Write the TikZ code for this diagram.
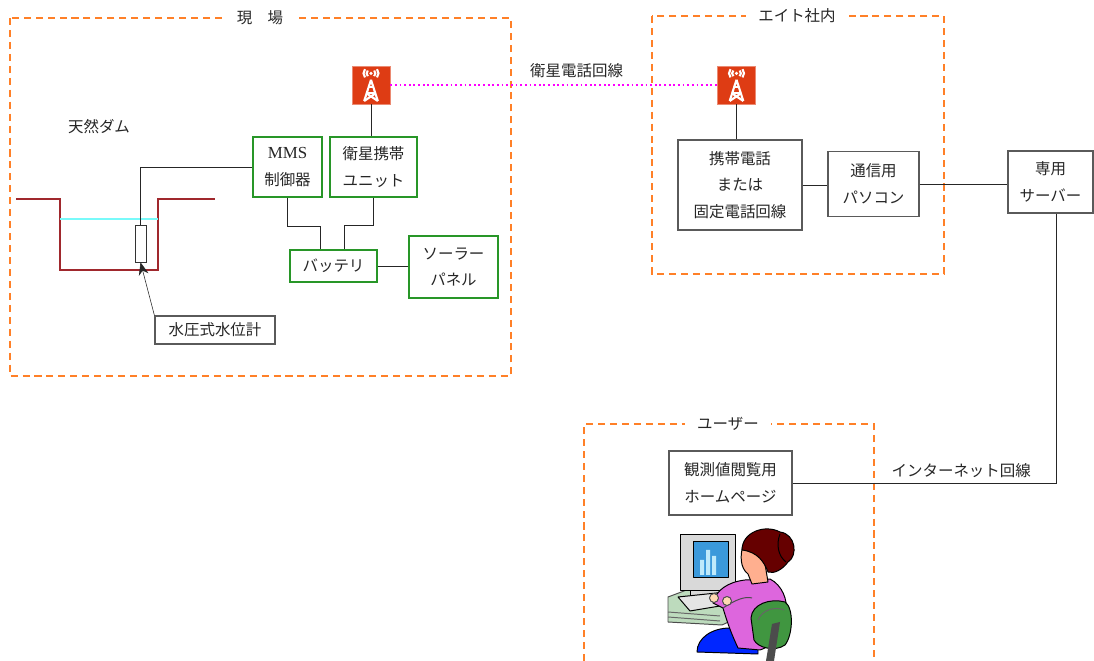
\documentclass[tikz,border=0pt]{standalone}
\usepackage{fontspec}
\setmainfont{Noto Sans CJK JP}
\newfontfamily\latfont{Liberation Serif}
\usepackage{tikz}
\usetikzlibrary{arrows.meta, positioning}

\definecolor{frameorange}{RGB}{255, 128, 40}
\definecolor{boxgreen}{RGB}{40, 150, 40}
\definecolor{boxgray}{RGB}{90, 90, 90}
\definecolor{damred}{RGB}{160, 40, 45}
\definecolor{waterline}{RGB}{120, 250, 250}
\definecolor{antred}{RGB}{222, 60, 20}
\definecolor{linkpink}{RGB}{255, 0, 255}

\begin{document}
\begin{tikzpicture}[
  x=0.025cm, y=-0.025cm,
  font=\fontsize{11}{19}\selectfont,
  every node/.style={text=black!85},
  gbox/.style={draw=boxgreen, thick, align=center, inner sep=2pt},
  kbox/.style={draw=boxgray, thick, align=center, inner sep=2pt},
  area/.style={draw=frameorange, line width=1.4pt, dash pattern=on 5pt off 3.5pt},
  areatitle/.style={fill=white, inner xsep=9pt, inner ysep=1pt},
  antenna/.style={fill=antred, draw=antred!60, minimum size=0.95cm, inner sep=0pt,
    path picture={
      \begin{scope}[shift={(path picture bounding box.center)}, white, line width=1.5pt]
        \fill (0cm,0.29cm) circle (0.045cm);
        \draw (-0.08cm,0.22cm) arc (225:135:0.1cm) (0.08cm,0.22cm) arc (-45:45:0.1cm);
        \draw (-0.15cm,0.19cm) arc (220:140:0.16cm) (0.15cm,0.19cm) arc (-40:40:0.16cm);
        \draw (0cm,0.13cm) -- (-0.17cm,-0.4cm) (0cm,0.13cm) -- (0.17cm,-0.4cm);
        \draw (-0.06cm,-0.06cm) -- (0.06cm,-0.06cm) (-0.11cm,-0.21cm) -- (0.11cm,-0.21cm);
        \draw (-0.11cm,-0.21cm) -- (0.17cm,-0.4cm) (0.11cm,-0.21cm) -- (-0.17cm,-0.4cm);
      \end{scope}}}
]
  \useasboundingbox (0,0) rectangle (1094,661);

  % areas
  \draw[area] (10,18) rectangle (511,376);
  \node[areatitle] (siteT) at (260,18) {現　場};
  \draw[area] (652,16) rectangle (944,274);
  \node[areatitle] (officeT) at (797,16) {エイト社内};
  \draw[area] (584,661) |- (874,424) -- (874,661);
  \node[areatitle] (userT) at (728,424) {ユーザー};

  % dam section with water level
  \draw[damred, thick] (16,199) -- (60,199) -- (60,270) -- (158,270) -- (158,199) -- (215,199);
  \draw[waterline, line width=1.5pt] (60,219) -- (158,219);
  \node (dam) at (99,127) {天然ダム};

  % site equipment
  \node[draw=black!80, fill=white, minimum width=0.275cm, minimum height=0.925cm, inner sep=0pt] (sensor) at (140.5,243.5) {};
  \node[kbox, minimum width=3cm, minimum height=0.7cm] (gauge) at (215,330) {水圧式水位計};
  \node[gbox, minimum width=1.725cm, minimum height=1.5cm] (mms) at (287.5,167) {{\latfont\fontsize{12}{19}\selectfont MMS}\\制御器};
  \node[gbox, minimum width=2.175cm, minimum height=1.5cm] (unit) at (373.5,167) {衛星携帯\\ユニット};
  \node[gbox, minimum width=2.175cm, minimum height=0.8cm] (bat) at (333.5,266) {バッテリ};
  \node[gbox, minimum width=2.225cm, minimum height=1.55cm] (solar) at (453.5,267) {ソーラー\\パネル};
  \node[antenna] (ant1) at (371,85) {};

  \draw[black!85] (sensor.north) |- (mms.west);
  \draw[black!85, -{Stealth[length=9pt, width=7pt]}] (gauge.north west) -- (sensor.south);
  \draw[black!85] (ant1.south) -- (ant1 |- unit.north);
  \draw[black!85] (mms.south) -- ++(0,29) -| ([xshift=-0.34cm]bat.north);
  \draw[black!85] (unit.south) -- ++(0,28) -| ([xshift=0.26cm]bat.north);
  \draw[black!85] (bat.east) -- (bat.east -| solar.west);

  % office equipment
  \node[antenna] (ant2) at (736.5,85) {};
  \node[kbox, minimum width=3.1cm, minimum height=2.25cm] (phone) at (740,185) {携帯電話\\または\\固定電話回線};
  \node[kbox, minimum width=2.275cm, minimum height=1.625cm] (pc) at (873.5,184) {通信用\\パソコン};
  \node[kbox, minimum width=2.125cm, minimum height=1.55cm] (srv) at (1050.5,182) {専用\\サーバー};

  \draw[linkpink, line width=1.3pt, dotted] (ant1.east) -- (ant2.west)
    node[pos=0.57, above=1pt, text=black!85] (satlink) {衛星電話回線};
  \draw[black!85] (ant2.south) -- (ant2 |- phone.north);
  \draw[black!85] (phone.east) -- (phone.east -| pc.west);
  \draw[black!85] (pc.east) -- (pc.east -| srv.west);

  % user side
  \node[kbox, minimum width=3.075cm, minimum height=1.6cm] (home) at (730.5,483) {観測値閲覧用\\ホームページ};
  \draw[black!85] ([xshift=0.14cm]srv.south) |- (home.east)
    node[pos=0.68, above=0pt] (netlink) {インターネット回線};

  % woman at the computer
  \begin{scope}[line width=0.7pt, line join=round]
    % desk, monitor and keyboard
    \filldraw[fill=green!30!gray!40, draw=black!70] (668,597) -- (700,585) -- (750,585) -- (750,612) -- (722,625) -- (668,622) -- cycle;
    \draw[black!60] (668,612) -- (720,616) (668,617) -- (720,621);
    \filldraw[fill=gray!30, draw=black] (680,534) rectangle (735,590);
    \filldraw[fill=cyan!70!blue!80, draw=black] (693,541) rectangle (728,577);
    \fill[cyan!25] (700,560) rectangle (704,575) (706,550) rectangle (710,575) (712,556) rectangle (716,575);
    \filldraw[fill=gray!30, draw=black] (690,590) rectangle (722,595);
    \filldraw[fill=gray!20, draw=black] (678,597) -- (726,592) -- (738,603) -- (690,611) -- cycle;
    % legs
    \filldraw[fill=blue!85!cyan, draw=black] (697,652) .. controls (697,638) and (712,628) .. (730,628) -- (758,636) -- (758,654) -- cycle;
    % back and arm
    \filldraw[fill=violet!45!magenta!60, draw=black] (713,603) .. controls (716,590) and (728,582) .. (745,580)
      -- (770,579) .. controls (782,585) and (788,600) .. (786,612)
      .. controls (784,630) and (775,645) .. (760,650) -- (738,648)
      .. controls (732,635) and (728,625) .. (723,608) -- cycle;
    \draw[black!70] (723,608) .. controls (735,600) and (745,596) .. (752,598);
    \filldraw[fill=orange!30, draw=black!70] (714,598) circle (4.5) (727,601) circle (4.5);
    % chair
    \filldraw[fill=green!45!black!75, draw=black] (751,618) .. controls (752,604) and (770,598) .. (785,602)
      .. controls (794,608) and (793,635) .. (785,645) .. controls (775,652) and (758,648) .. (754,640) -- cycle;
    \draw[black!60] (758,620) .. controls (762,610) and (775,606) .. (784,610);
    \fill[gray!60!black] (772,624) -- (780,622) -- (774,661) -- (766,661) -- cycle;
    % head
    \filldraw[fill=orange!25!pink, draw=black] (752,584) -- (748,574) .. controls (740,568) and (740,555) .. (743,546)
      -- (762,546) -- (768,582) -- cycle;
    \filldraw[fill=red!40!black, draw=black] (742,550) .. controls (742,532) and (765,524) .. (780,532)
      .. controls (796,534) and (798,556) .. (788,562) .. controls (782,570) and (774,574) .. (768,572)
      .. controls (764,562) and (758,552) .. (742,550) -- cycle;
    \draw[black] (780,534) .. controls (776,544) and (778,556) .. (786,562);
  \end{scope}
\end{tikzpicture}
\end{document}
